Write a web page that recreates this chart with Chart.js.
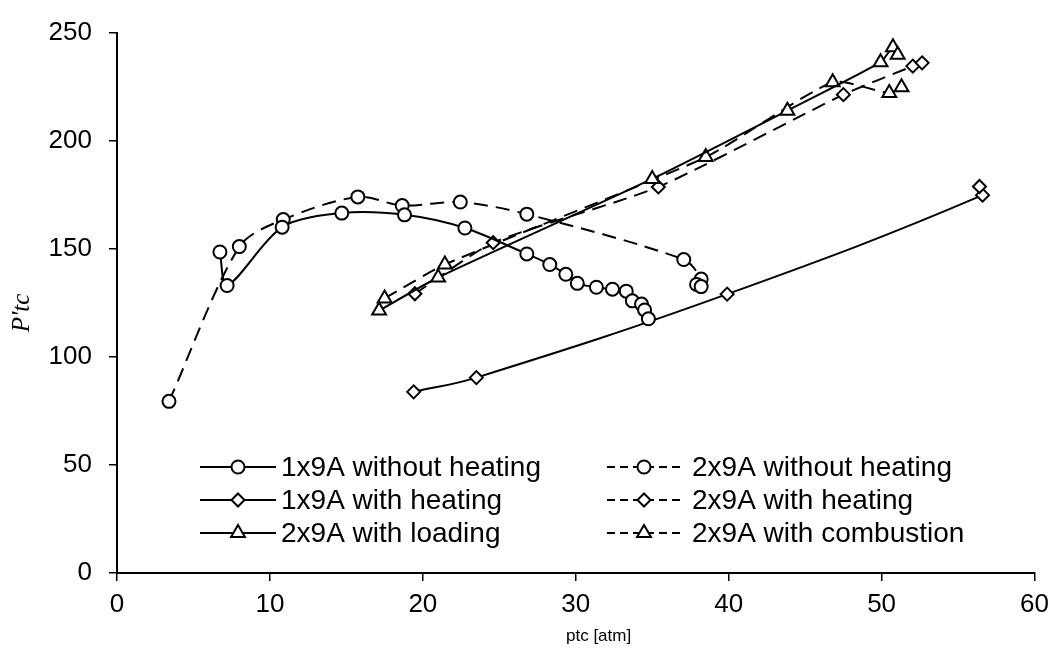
<!DOCTYPE html>
<html><head><meta charset="utf-8">
<script src="https://cdn.jsdelivr.net/npm/chart.js@4/dist/chart.umd.min.js"></script>
<style>html,body{margin:0;padding:0;background:#fff;}#wrap{width:1057px;height:657px;}</style>
</head><body><div id="wrap"><canvas id="c" width="1057" height="657"></canvas></div>
<script>
// ---- data ----
const seriesLabels = ["1x9A without heating","1x9A with heating","2x9A with loading",
                      "2x9A without heating","2x9A with heating","2x9A with combustion"];
const xTicks = [0,10,20,30,40,50,60];
const yTicks = [0,50,100,150,200,250];

const x1NoHeat = [6.73,7.2,10.8,14.7,18.8,22.75,26.8,28.3,29.35,30.1,31.35,32.4,33.3,33.7,34.3,34.5,34.75];
const y1NoHeat = [148.5,133,160,166.5,165.7,159.6,147.6,142.7,138.2,134,132.2,131.3,130.4,125.9,124.4,121.7,117.6];

const x1Heat = [19.4,23.5,39.9,56.6,56.4];
const y1Heat = [83.8,90.4,129,174.8,178.8];

const x2Load = [17.14,21.0,35.0,43.84,49.93,50.74,51.05];
const y2Load = [121.4,136.7,182.3,213.9,236.3,243.2,239.8];

const x2NoHeat = [3.4,8.0,10.87,15.75,18.65,22.45,26.8,37.06,38.2,37.9,38.2];
const y2NoHeat = [79.4,151,163.5,174,170,171.6,166,145,136,133.5,132.5];

const x2Heat = [19.48,24.6,35.4,47.5,52.04,52.65];
const y2Heat = [129.2,152.8,178.6,221.3,234.5,236];

const x2Comb = [17.5,21.44,38.5,46.8,50.5,51.3];
const y2Comb = [127,142.7,192.4,227,222,224.7];

const xTitle = "ptc [atm]";
const yTitle = "P'tc";

// ---- build ----
function pts(xs, ys){ return xs.map((x,i)=>({x:x, y:ys[i]})); }
const seriesX = [x1NoHeat,x1Heat,x2Load,x2NoHeat,x2Heat,x2Comb];
const seriesY = [y1NoHeat,y1Heat,y2Load,y2NoHeat,y2Heat,y2Comb];
const styles = ['circle','rectRot','triangle','circle','rectRot','triangle'];
const radii = [6.5,6.5,8,6.5,6.5,8];
const dashed = [false,false,false,true,true,true];
const tensions = [0.3,0.4,0.2,0.3,0.2,0.2];

const datasets = seriesLabels.map((lab,i)=>({
  label: lab,
  data: pts(seriesX[i], seriesY[i]),
  showLine: true,
  borderColor: '#000',
  borderWidth: 2,
  borderDash: dashed[i] ? [14,8] : [],
  tension: tensions[i],
  pointStyle: styles[i],
  pointRadius: radii[i],
  pointBackgroundColor: '#fff',
  pointBorderColor: '#000',
  pointBorderWidth: 2,
  fill: false
}));

const FONT = '"Liberation Sans", Arial, sans-serif';

const textPlugin = {
  id: 'textPlugin',
  afterDraw(chart){
    const ctx = chart.ctx;
    ctx.save();
    // legend (two columns, three rows)
    const rowsY = [467,500,533];
    const cols = [{x0:200,x1:276,tx:281},{x0:607,x1:681,tx:692}];
    chart.data.datasets.forEach((ds,i)=>{
      const col = cols[Math.floor(i/3)];
      const y = rowsY[i%3];
      ctx.strokeStyle = '#000';
      ctx.lineWidth = 2;
      ctx.setLineDash(dashed[i] ? [8,5] : []);
      ctx.beginPath(); ctx.moveTo(col.x0,y); ctx.lineTo(col.x1,y); ctx.stroke();
      ctx.setLineDash([]);
      ctx.fillStyle = '#fff';
      Chart.helpers.drawPoint(ctx,{pointStyle:ds.pointStyle,radius:ds.pointRadius,rotation:0,borderWidth:2},(col.x0+col.x1)/2,y);
      ctx.fillStyle = '#000';
      ctx.font = '28px ' + FONT;
      ctx.textAlign = 'left';
      ctx.textBaseline = 'middle';
      ctx.fillText(ds.label, col.tx, y+1);
    });
    // axis titles
    ctx.fillStyle = '#000';
    ctx.font = '17px ' + FONT;
    ctx.textAlign = 'left';
    ctx.textBaseline = 'middle';
    ctx.fillText(xTitle, 566, 636);
    ctx.translate(22, 313);
    ctx.rotate(-Math.PI/2);
    ctx.font = 'italic 25px "Liberation Serif", "Times New Roman", serif';
    ctx.textAlign = 'center';
    ctx.fillText(yTitle, 0, 0);
    ctx.restore();
  }
};

new Chart(document.getElementById('c'), {
  type: 'scatter',
  data: { datasets },
  options: {
    responsive: false,
    animation: false,
    devicePixelRatio: 1,
    layout: { padding: { left: 0, top: 19, right: 22, bottom: 0 } },
    plugins: { legend: { display: false }, tooltip: { enabled: false } },
    scales: {
      x: {
        type: 'linear', min: 0, max: 60,
        afterBuildTicks(s){ s.ticks = xTicks.map(v=>({value:v})); },
        afterFit(s){ s.height = 84; },
        ticks: { color:'#000', font:{ family: FONT, size: 26 }, padding: 8, maxRotation: 0 },
        grid: { display: true, drawOnChartArea: false, drawTicks: true, tickLength: 8, color: '#000', lineWidth: 1.5 },
        border: { display: true, color: '#000', width: 2 }
      },
      y: {
        type: 'linear', min: 0, max: 250,
        afterBuildTicks(s){ s.ticks = yTicks.map(v=>({value:v})); },
        afterFit(s){ s.width = 117; },
        ticks: { color:'#000', font:{ family: FONT, size: 26 }, padding: 17 },
        grid: { display: true, drawOnChartArea: false, drawTicks: true, tickLength: 8, color: '#000', lineWidth: 1.5 },
        border: { display: true, color: '#000', width: 2 }
      }
    }
  },
  plugins: [textPlugin]
});
</script>
</body></html>
